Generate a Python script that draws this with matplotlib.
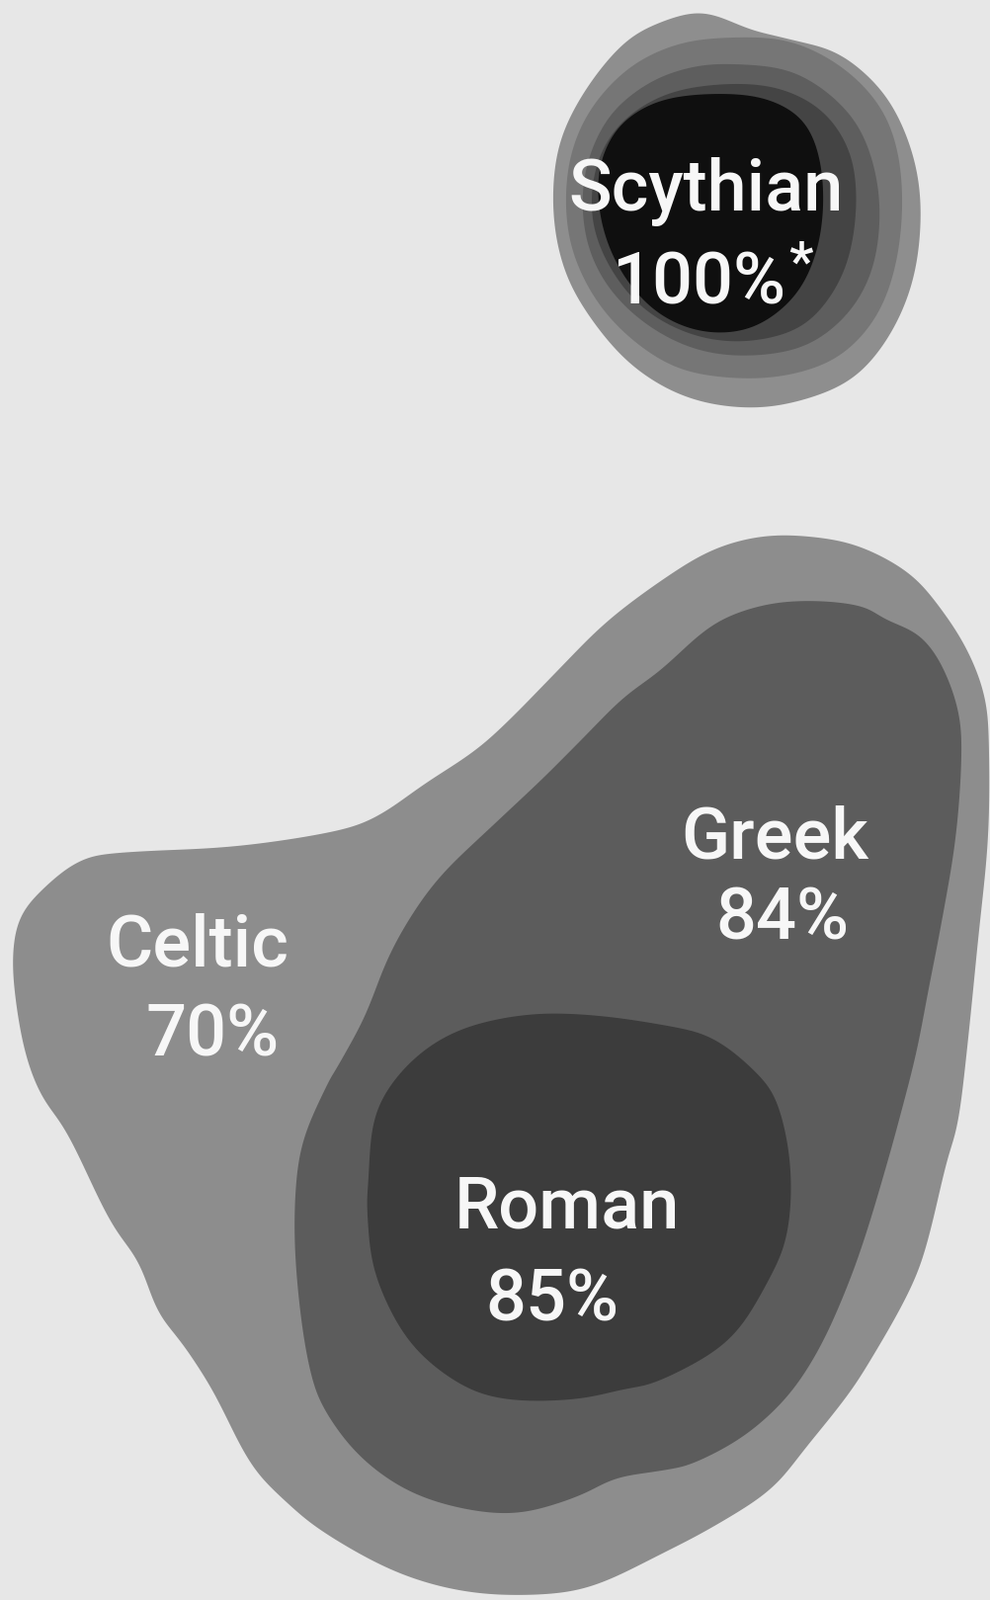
import numpy as np
import matplotlib
matplotlib.use('Agg')
import matplotlib.pyplot as plt
from matplotlib.patches import Polygon

# ── Data ──────────────────────────────────────────────────────────────────────
GROUPS   = ['Scythian', 'Celtic', 'Greek', 'Roman']
PERCENTS = [100, 70, 84, 85]
FOOTNOTE = ['*', '', '', '']

BG = '#e7e7e7'

# ── Hand-drawn blob outlines (image pixel coords, y down) ─────────────────────
SCY_RINGS = [
    ('#8e8e8e', [(713, 13), (760, 30), (800, 40), (850, 55), (895, 95), (922, 150), (932, 210),
                 (925, 280), (900, 340), (860, 385), (800, 408), (745, 412), (690, 400), (640, 370),
                 (600, 325), (572, 275), (560, 215), (565, 150), (590, 95), (630, 45), (670, 22)]),
    ('#767676', [(740, 38), (800, 42), (855, 70), (895, 115), (912, 175), (910, 250), (890, 315),
                 (850, 360), (795, 380), (735, 382), (680, 370), (630, 335), (595, 290), (575, 235),
                 (575, 170), (595, 115), (635, 70), (685, 45)]),
    ('#5e5e5e', [(745, 65), (800, 72), (845, 100), (875, 140), (890, 200), (885, 265), (860, 315),
                 (815, 350), (755, 360), (700, 352), (650, 325), (612, 285), (592, 235), (592, 175),
                 (615, 120), (655, 85), (700, 68)]),
    ('#444444', [(735, 85), (790, 90), (835, 115), (862, 160), (866, 220), (852, 280), (815, 328),
                 (760, 345), (705, 340), (655, 315), (620, 275), (600, 225), (603, 170), (628, 125),
                 (675, 95)]),
    ('#0f0f0f', [(720, 95), (775, 100), (815, 125), (832, 175), (830, 240), (808, 295), (765, 330),
                 (715, 336), (668, 318), (632, 280), (610, 230), (606, 175), (625, 130), (665, 103)]),
]

CELTIC = [(770, 543), (820, 543), (870, 553), (920, 580), (953, 617), (980, 660), (997, 707),
          (1001, 760), (1000, 850), (990, 950), (980, 1050), (970, 1133), (957, 1180), (937, 1263),
          (917, 1313), (883, 1373), (857, 1413), (817, 1463), (780, 1507), (725, 1543), (670, 1572),
          (597, 1606), (530, 1614), (463, 1609), (397, 1589), (330, 1552), (290, 1520), (253, 1480),
          (217, 1410), (187, 1363), (160, 1327), (140, 1277), (110, 1233), (70, 1150), (43, 1110),
          (27, 1070), (17, 1020), (13, 970), (20, 930), (43, 900), (83, 870), (133, 862), (233, 857),
          (330, 843), (380, 827), (430, 793), (480, 760), (517, 727), (563, 680), (613, 630),
          (670, 587), (720, 557)]

GREEK = [(770, 613), (820, 608), (870, 613), (897, 627), (930, 643), (953, 673), (970, 720),
         (973, 770), (967, 850), (953, 933), (940, 1000), (927, 1067), (910, 1133), (897, 1180),
         (877, 1247), (857, 1303), (830, 1363), (797, 1413), (753, 1453), (703, 1480), (670, 1488),
         (623, 1496), (580, 1516), (513, 1532), (430, 1516), (370, 1479), (330, 1429), (313, 1383),
         (302, 1310), (298, 1233), (305, 1160), (330, 1100), (343, 1077), (370, 1027), (397, 960),
         (440, 893), (497, 837), (547, 790), (590, 747), (630, 707), (670, 677), (720, 633)]

ROMAN = [(530, 1027), (597, 1027), (670, 1037), (720, 1050), (763, 1083), (787, 1117), (800, 1180),
         (797, 1247), (777, 1297), (737, 1357), (670, 1396), (630, 1406), (580, 1416), (513, 1416),
         (463, 1399), (413, 1356), (380, 1290), (372, 1230), (373, 1193), (380, 1127), (413, 1077),
         (463, 1043)]

BIG_LAYERS = [('#8d8d8d', CELTIC), ('#5c5c5c', GREEK), ('#3c3c3c', ROMAN)]

# label anchors: (x name, baseline name, x pct, baseline pct)
LABEL_POS = {
    'Scythian': (715, 213, 707, 307),
    'Celtic':   (200, 977, 215, 1068),
    'Greek':    (784, 868, 792, 950),
    'Roman':    (574, 1242, 559, 1336),
}


def smooth(pts, n=24, win=17):
    # periodic Catmull-Rom through the control points, then a light circular blur
    p = np.asarray(pts, dtype=float)
    out = []
    m = len(p)
    for i in range(m):
        p0, p1, p2, p3 = p[i - 1], p[i], p[(i + 1) % m], p[(i + 2) % m]
        t = np.linspace(0, 1, n, endpoint=False)[:, None]
        seg = 0.5 * ((2 * p1) + (-p0 + p2) * t + (2 * p0 - 5 * p1 + 4 * p2 - p3) * t ** 2
                     + (-p0 + 3 * p1 - 3 * p2 + p3) * t ** 3)
        out.append(seg)
    c = np.vstack(out)
    k = np.ones(win) / win
    half = win // 2
    padded = np.vstack([c[-half:], c, c[:half]])
    return np.column_stack([np.convolve(padded[:, j], k, mode='valid') for j in range(2)])


W, H = 1003, 1619
fig = plt.figure(figsize=(W / 100, H / 100), dpi=100)
fig.patch.set_facecolor(BG)
ax = fig.add_axes([0, 0, 1, 1])
ax.set_facecolor(BG)
ax.set_xlim(0, W)
ax.set_ylim(H, 0)
ax.axis('off')

for color, pts in SCY_RINGS + BIG_LAYERS:
    ax.add_patch(Polygon(smooth(pts), closed=True, facecolor=color, edgecolor='none'))

font = dict(family=['Roboto', 'DejaVu Sans'], fontsize=52, fontweight='medium', color='#f7f7f7')
for name, pct, note in zip(GROUPS, PERCENTS, FOOTNOTE):
    x1, y1, x2, y2 = LABEL_POS[name]
    ax.text(x1, y1, name, ha='center', va='baseline', **font)
    t = ax.text(x2, y2, f"{pct}%", ha='center', va='baseline', **font)
    if note:
        ax.annotate(note, xy=(1, 1), xycoords=t, xytext=(2, -30), textcoords='offset points',
                    ha='left', va='bottom', family=['Roboto', 'DejaVu Sans'], fontsize=40,
                    fontweight='medium', color='#f7f7f7')

plt.savefig('out.png', dpi=100, facecolor=BG)
plt.close()
